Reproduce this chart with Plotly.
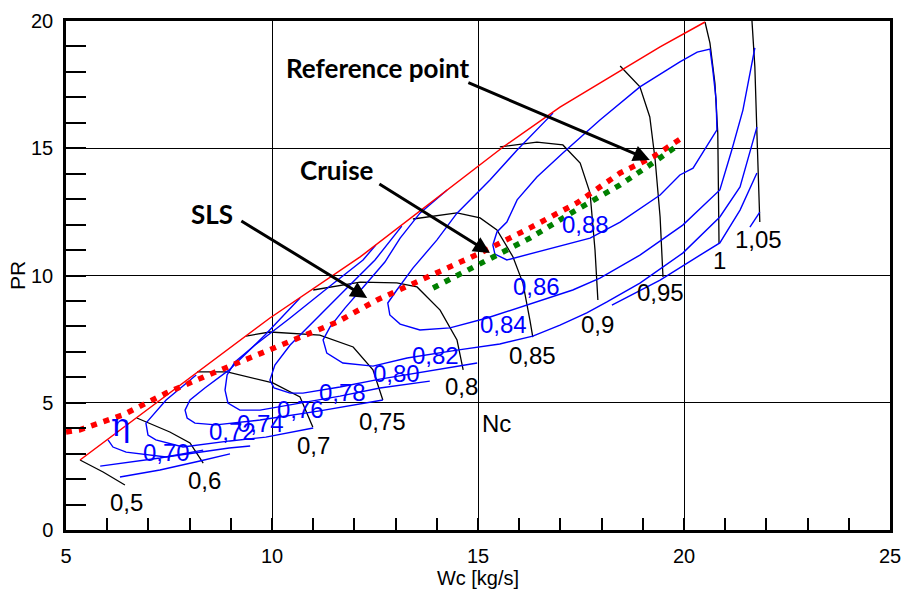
import plotly.graph_objects as go

# ---------------- data (Wc [kg/s], PR) ----------------
surge_x = [5.34, 8.18, 9.95, 12.14, 15.61, 16.99, 19.42, 20.51]
surge_y = [2.75, 6.21, 8.33, 10.73, 15.05, 16.62, 18.98, 19.96]

speed_labels = ["0,5", "0,6", "0,7", "0,75", "0,8", "0,85", "0,9", "0,95", "1", "1,05"]
speed_x = [
    [5.34, 5.90, 6.43],
    [6.72, 7.52, 8.01, 8.33],
    [8.18, 8.91, 10.02, 10.68, 10.99],
    [9.37, 9.95, 11.16, 11.97, 12.45, 12.69],
    [11.00, 12.14, 13.03, 13.52, 14.08, 14.49, 14.64],
    [13.42, 14.49, 15.05, 15.46, 15.85, 16.09, 16.26, 16.33],
    [15.53, 16.43, 17.06, 17.48, 17.72, 17.84, 17.91],
    [18.45, 18.93, 19.17, 19.30, 19.42, 19.49],
    [20.51, 20.63, 20.75, 20.82, 20.85],
    [21.65, 21.72, 21.77, 21.84],
]
speed_y = [
    [2.75, 2.28, 1.77],
    [4.40, 3.85, 3.42, 2.63],
    [6.21, 6.21, 5.78, 5.23, 4.05],
    [7.62, 7.78, 7.66, 7.19, 6.29, 5.11],
    [9.43, 9.74, 9.71, 9.55, 8.64, 7.47, 6.29],
    [12.22, 12.46, 12.26, 11.79, 10.73, 9.70, 8.25, 7.58],
    [15.05, 15.24, 15.13, 14.42, 13.24, 11.00, 9.04],
    [18.23, 17.41, 16.23, 14.54, 12.30, 9.94],
    [19.96, 19.13, 17.56, 15.60, 11.28],
    [20.00, 18.19, 15.60, 12.10],
]
speed_lab_x = [6.46, 8.35, 11.00, 12.67, 14.61, 16.33, 17.91, 19.44, 20.85, 21.80]
speed_lab_y = [1.10, 1.93, 3.34, 4.28, 5.62, 6.84, 8.06, 9.35, 10.57, 11.43]

# efficiency contours (blue)
eff_x = [
    [15.36, 15.46, 15.70, 15.95, 16.43, 17.06, 17.96, 18.93, 19.90, 20.32, 20.63, 20.70, 20.78, 20.80,
     20.22, 19.90, 19.42, 18.45, 17.72, 16.99, 16.33, 15.70, 15.41, 15.36],
    [16.82, 15.95, 15.29, 14.49, 14.00, 13.42, 13.03, 12.81, 12.86, 13.11, 13.59, 14.32, 15.22, 16.19,
     17.30, 17.96, 18.93, 19.97, 20.87, 21.16, 21.43, 21.72],
    [14.25, 13.59, 13.11, 12.74, 12.26, 11.77, 11.41, 11.24, 11.33, 11.72, 12.45, 13.28, 14.49, 15.53,
     16.33, 16.99, 17.64, 18.13, 18.93, 19.97, 20.87, 21.36, 21.77],
    [13.15, 12.50, 11.77, 11.04, 10.44, 10.07, 9.95, 10.05, 10.44, 10.75, 11.65, 12.62, 13.83, 14.98],
    [12.52, 12.21, 11.41, 10.44, 9.59, 9.10, 8.91, 8.86, 8.93, 9.22, 9.71, 10.68, 11.65, 12.62, 13.83],
    [10.68, 9.83, 8.96, 8.37, 8.01, 7.89, 7.94, 8.13, 8.64, 9.71, 11.16, 12.69],
    [8.16, 7.43, 6.94, 6.99, 7.18, 7.84, 8.98, 9.85, 11.00],
    [6.02, 6.14, 6.46, 7.43, 8.96, 9.47],
    [5.83, 6.55, 7.28, 8.33],
    [6.31, 7.28, 8.25, 8.98],
    [18.25, 19.42, 20.39, 20.87, 21.36, 21.77],
    [21.60, 21.84],
]
eff_y = [
    [11.20, 11.71, 12.10, 12.97, 13.87, 14.81, 16.11, 17.41, 18.39, 18.78, 18.90, 18.07, 16.90, 15.72,
     14.22, 13.95, 13.16, 12.10, 11.47, 11.16, 10.88, 10.61, 10.84, 11.20],
    [16.38, 14.93, 13.75, 12.45, 11.39, 10.29, 9.43, 8.92, 8.45, 8.09, 7.86, 7.94, 8.33, 8.84,
     9.43, 9.90, 10.80, 11.98, 13.36, 14.93, 16.50, 18.94],
    [13.36, 12.45, 11.47, 10.53, 9.63, 8.72, 7.98, 7.47, 6.95, 6.56, 6.44, 6.76, 7.07, 7.31,
     7.62, 8.05, 8.53, 8.96, 9.70, 10.88, 12.30, 13.48, 15.83],
    [11.94, 10.61, 9.43, 8.25, 7.27, 6.48, 5.89, 5.58, 5.38, 5.38, 5.62, 5.93, 6.25, 6.56],
    [11.20, 10.61, 9.59, 8.33, 7.27, 6.60, 6.09, 5.50, 4.99, 4.71, 4.71, 4.99, 5.26, 5.58, 5.85],
    [9.12, 7.66, 6.29, 5.58, 5.11, 4.71, 4.40, 4.20, 4.13, 4.32, 4.68, 5.11],
    [6.09, 5.11, 4.20, 3.73, 3.54, 3.26, 3.50, 3.65, 4.01],
    [3.54, 3.26, 3.06, 2.87, 3.22, 3.30],
    [2.51, 2.67, 2.83, 3.14],
    [2.08, 2.36, 2.71, 2.99],
    [8.84, 9.82, 10.80, 11.28, 12.57, 14.03],
    [11.90, 12.49],
]
eff_labels = ["0,70", "0,72", "0,74", "0,76", "0,78", "0,80", "0,82", "0,84", "0,86", "0,88"]
eff_lab_x = [7.43, 9.03, 9.71, 10.68, 11.72, 13.03, 13.96, 15.61, 16.43, 17.60]
eff_lab_y = [3.06, 3.89, 4.20, 4.72, 5.42, 6.13, 6.84, 8.06, 9.55, 12.02]

# operating lines
op_red_x = [5.00, 5.32, 6.38, 7.43, 8.57, 9.78, 10.68, 11.58, 12.55, 13.52, 13.83, 15.05, 16.26, 17.40, 18.45, 19.25, 19.98]
op_red_y = [3.85, 3.93, 4.52, 5.38, 6.17, 6.99, 7.58, 8.17, 9.04, 9.74, 10.02, 10.88, 11.87, 12.85, 14.03, 14.66, 15.44]
op_green_x = [13.91, 15.05, 16.26, 17.31, 18.45, 19.17, 19.90]
op_green_y = [9.51, 10.49, 11.47, 12.50, 13.56, 14.34, 15.17]

# annotated points: (text, text x, text y, arrow tail x, tail y, head x, head y)
points = [
    ("Reference point", 12.57, 18.15, 14.73, 17.60, 19.17, 14.54),
    ("Cruise", 11.58, 14.15, 12.57, 13.63, 15.29, 10.88),
    ("SLS", 8.54, 12.42, 9.22, 12.18, 12.31, 9.12),
]

# ---------------- figure ----------------
fig = go.Figure()

def add_line(x, y, color, width=1.3, dash=None):
    fig.add_trace(go.Scatter(x=x, y=y, mode="lines",
                             line=dict(color=color, width=width, dash=dash),
                             hoverinfo="skip", showlegend=False))

for xs, ys in zip(speed_x, speed_y):
    add_line(xs, ys, "black", 1.3)
for xs, ys in zip(eff_x, eff_y):
    add_line(xs, ys, "#0000ff", 1.4)
add_line(surge_x, surge_y, "#ff0000", 1.5)
add_line(op_red_x, op_red_y, "#ff0000", 5.5, "6px,7px")
add_line(op_green_x, op_green_y, "#008000", 5.5, "6px,7px")

ann = []
for t, x, y in zip(speed_labels, speed_lab_x, speed_lab_y):
    ann.append(dict(x=x, y=y, text=t, showarrow=False, font=dict(size=24, color="black", family="Liberation Sans")))
ann.append(dict(x=15.44, y=4.17, text="Nc", showarrow=False, font=dict(size=24, color="black", family="Liberation Sans")))
for t, x, y in zip(eff_labels, eff_lab_x, eff_lab_y):
    ann.append(dict(x=x, y=y, text=t, showarrow=False, font=dict(size=24, color="#0000ff", family="Liberation Sans")))
ann.append(dict(x=6.33, y=4.13, text="η", showarrow=False, font=dict(size=32, color="#0000ff", family="DejaVu Serif")))

for t, tx, ty, ax, ay, hx, hy in points:
    ann.append(dict(x=tx, y=ty, text="<b>%s</b>" % t, showarrow=False,
                    font=dict(size=26, color="black", family="Lato")))
    ann.append(dict(x=hx, y=hy, ax=ax, ay=ay, xref="x", yref="y", axref="x", ayref="y",
                    text="", showarrow=True, arrowhead=2, arrowsize=1.1, arrowwidth=3,
                    arrowcolor="black"))

axis_common = dict(showgrid=True, gridcolor="black", gridwidth=1.2, zeroline=False,
                   showline=True, mirror=True, linecolor="black", linewidth=2.5,
                   ticks="inside", tickcolor="black", tickwidth=1.5, dtick=5,
                   tickfont=dict(size=20, family="Liberation Sans", color="black"),
                   ticklabelstandoff=6, automargin=False)

fig.update_layout(
    width=906, height=592,
    margin=dict(l=66, r=16, t=21, b=62),
    paper_bgcolor="white", plot_bgcolor="white",
    xaxis=dict(range=[5, 25], tick0=5, ticklen=12,
               minor=dict(dtick=1, ticks="inside", ticklen=12, tickcolor="black", tickwidth=1.5, showgrid=False),
               title=dict(text="Wc [kg/s]", font=dict(size=20, family="Liberation Sans", color="black"), standoff=2),
               **axis_common),
    yaxis=dict(range=[0, 20], tick0=0, ticklen=20,
               minor=dict(dtick=1, ticks="inside", ticklen=20, tickcolor="black", tickwidth=1.5, showgrid=False),
               title=dict(text="PR", font=dict(size=21, family="Liberation Sans", color="black"), standoff=0),
               **axis_common),
    annotations=ann,
)

fig.write_html("out.html", config={"displayModeBar": False},
               post_script="document.body.style.margin='0';document.body.style.overflow='hidden';")
